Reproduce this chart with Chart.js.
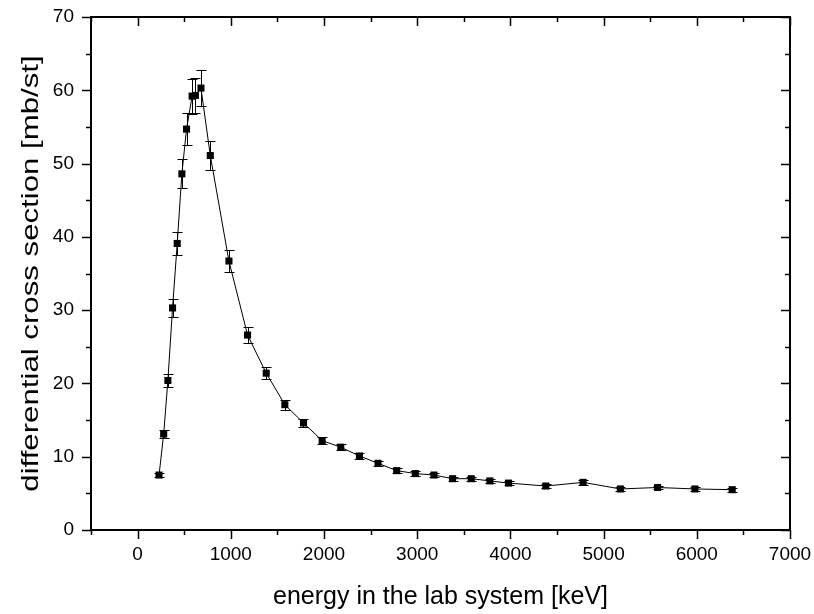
<!DOCTYPE html>
<html lang="en">
<head>
<meta charset="UTF-8">
<title>differential cross section</title>
<script src="https://cdn.jsdelivr.net/npm/chart.js"></script>
<style>
  html, body { margin: 0; padding: 0; background: #fff; }
  #wrap { width: 814px; height: 614px; }
</style>
</head>
<body>
<div id="wrap"><canvas id="grafico" width="814" height="614"></canvas></div>
<script>
// energia [keV]
var energy = [230, 280, 325, 375, 425, 475, 525, 585, 620, 680, 780,
              980, 1180, 1380, 1580, 1780, 1980, 2180, 2380, 2580, 2780, 2980,
              3180, 3380, 3580, 3780, 3980, 4380, 4780, 5180, 5580, 5980, 6380];
// secao de choque diferencial [mb/st]
var sigma = [7.5, 13.1, 20.4, 30.3, 39.1, 48.6, 54.7, 59.2, 59.3, 60.3, 51.1,
             36.7, 26.6, 21.4, 17.1, 14.6, 12.2, 11.3, 10.1, 9.1, 8.1, 7.7,
             7.5, 7.0, 7.0, 6.7, 6.4, 6.0, 6.5, 5.6, 5.8, 5.6, 5.5];
// erro
var erro = [0.3, 0.6, 0.85, 1.2, 1.55, 2.0, 2.2, 2.4, 2.4, 2.4, 2.0,
            1.5, 1.05, 0.85, 0.7, 0.6, 0.5, 0.45, 0.4, 0.38, 0.35, 0.33,
            0.32, 0.3, 0.3, 0.3, 0.3, 0.28, 0.3, 0.27, 0.27, 0.27, 0.27];

var xTicksMajor = [0, 1000, 2000, 3000, 4000, 5000, 6000, 7000];
var yTicksMajor = [0, 10, 20, 30, 40, 50, 60, 70];
var yTitulo = 'differential cross section [mb/st]';

var pontos = [];
for (var i = 0; i < energy.length; i++) {
    pontos.push({ x: energy[i], y: sigma[i] });
}

// barras de erro (desenhadas antes dos pontos)
const errorBars = {
    id: 'errorBars',
    beforeDatasetsDraw(chart) {
        const ctx = chart.ctx;
        const xs = chart.scales.x, ys = chart.scales.y;
        ctx.save();
        ctx.strokeStyle = '#000';
        ctx.lineWidth = 1;
        for (let i = 0; i < energy.length; i++) {
            const px = Math.round(xs.getPixelForValue(energy[i])) + 0.5;
            const top = Math.round(ys.getPixelForValue(sigma[i] + erro[i])) + 0.5;
            const bot = Math.round(ys.getPixelForValue(sigma[i] - erro[i])) + 0.5;
            ctx.beginPath();
            ctx.moveTo(px, top); ctx.lineTo(px, bot);
            ctx.moveTo(px - 5, top); ctx.lineTo(px + 5, top);
            ctx.moveTo(px - 5, bot); ctx.lineTo(px + 5, bot);
            ctx.stroke();
        }
        ctx.restore();
    }
};

// moldura, ticks (maiores e menores) e titulo do eixo y
const frame = {
    id: 'frame',
    afterDraw(chart) {
        const ctx = chart.ctx;
        const a = chart.chartArea;
        const xs = chart.scales.x, ys = chart.scales.y;
        ctx.save();
        ctx.strokeStyle = '#000';
        ctx.lineWidth = 2;
        ctx.strokeRect(a.left, a.top, a.right - a.left, a.bottom - a.top);
        ctx.lineWidth = 1.5;
        ctx.beginPath();
        for (let v = -500; v <= 7000; v += 500) {
            const px = Math.round(xs.getPixelForValue(v)) + 0.5;
            const len = (v % 1000 === 0) ? 9 : 5;
            ctx.moveTo(px, a.bottom); ctx.lineTo(px, a.bottom + len);
            ctx.moveTo(px, a.top); ctx.lineTo(px, a.top + len);
        }
        for (let v = 0; v <= 70; v += 5) {
            const py = Math.round(ys.getPixelForValue(v)) + 0.5;
            const len = (v % 10 === 0) ? 9 : 5;
            ctx.moveTo(a.left, py); ctx.lineTo(a.left - len, py);
            ctx.moveTo(a.right, py); ctx.lineTo(a.right - len, py);
        }
        ctx.stroke();

        // titulo y, um pouco esticado como no original
        ctx.translate(31, (a.top + a.bottom) / 2);
        ctx.rotate(-Math.PI / 2);
        ctx.scale(1.3, 1);
        ctx.fillStyle = '#000';
        ctx.font = '24px "Liberation Sans", Arial';
        ctx.textAlign = 'center';
        ctx.textBaseline = 'middle';
        ctx.fillText(yTitulo, 0, 0);
        ctx.restore();
    }
};

const config = {
    type: 'line',
    data: {
        datasets: [{
            label: 'cross section',
            data: pontos,
            borderColor: '#000',
            borderWidth: 1,
            backgroundColor: '#000',
            pointStyle: 'rect',
            pointRadius: 5,
            pointBorderWidth: 0,
            tension: 0,
            fill: false
        }]
    },
    options: {
        responsive: false,
        animation: false,
        layout: { padding: { top: 17, right: 24, left: 0, bottom: 0 } },
        plugins: {
            legend: { display: false },
            tooltip: { enabled: false }
        },
        scales: {
            x: {
                type: 'linear',
                min: -500,
                max: 7000,
                afterFit: function (s) {
                    s.height = 84;
                    s.paddingLeft = 0;
                    s.paddingRight = 0;
                },
                afterBuildTicks: function (s) { s.ticks = xTicksMajor.map(v => ({ value: v })); },
                grid: { display: false, drawTicks: false },
                border: { display: false },
                ticks: {
                    color: '#000',
                    padding: 13,
                    maxRotation: 0,
                    callback: function (v) { return String(v); },
                    font: { family: 'Liberation Sans, Arial', size: 19 }
                },
                title: {
                    display: true,
                    text: 'energy in the lab system [keV]',
                    color: '#000',
                    padding: { top: 0, bottom: 2 },
                    font: { family: 'Liberation Sans, Arial', size: 25 }
                }
            },
            y: {
                type: 'linear',
                min: 0,
                max: 70,
                afterFit: function (s) {
                    s.width = 91;
                    s.paddingTop = 0;
                    s.paddingBottom = 0;
                },
                afterBuildTicks: function (s) { s.ticks = yTicksMajor.map(v => ({ value: v })); },
                grid: { display: false, drawTicks: false },
                border: { display: false },
                ticks: {
                    color: '#000',
                    padding: 17,
                    font: { family: 'Liberation Sans, Arial', size: 19 }
                },
                title: { display: false }
            }
        }
    },
    plugins: [errorBars, frame]
};

const grafico = new Chart(document.getElementById('grafico'), config);
</script>
</body>
</html>
